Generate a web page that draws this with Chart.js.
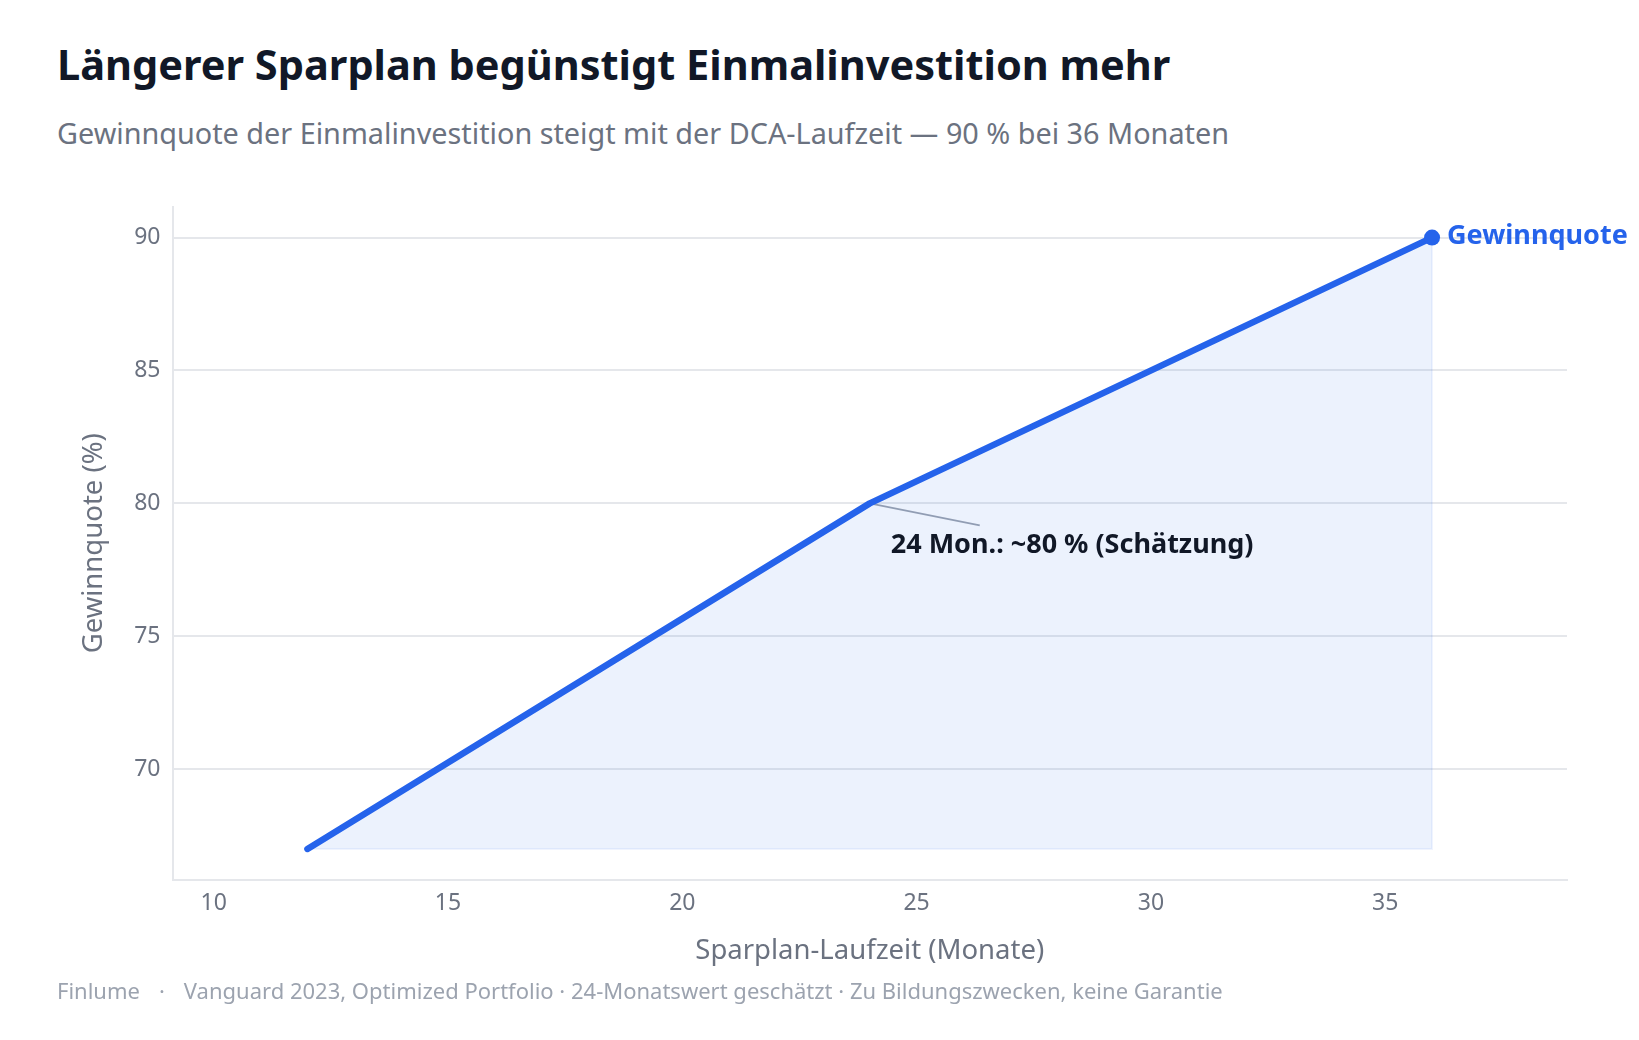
<!DOCTYPE html>
<html lang="de">
<head>
<meta charset="utf-8">
<title>Längerer Sparplan begünstigt Einmalinvestition mehr</title>
<script src="https://cdn.jsdelivr.net/npm/chart.js@4.4.1/dist/chart.umd.min.js"></script>
<style>
  html, body { margin: 0; padding: 0; background: #fff; }
  body { width: 1639px; height: 1040px; position: relative; overflow: hidden; font-family: "Noto Sans", sans-serif; }
  #chart { position: absolute; left: 0; top: 0; }
  .title { position: absolute; left: 57px; top: 40px; font-size: 41.5px; line-height: 48px; font-weight: 700; color: #111827; white-space: nowrap; }
  .subtitle { position: absolute; left: 57px; top: 116px; font-size: 28.8px; line-height: 34px; color: #6b7280; white-space: nowrap; }
  .footer { position: absolute; left: 57px; top: 977px; font-size: 22px; line-height: 26px; color: #9ca3af; white-space: nowrap; }
  .footer .dot { margin: 0 19px; }
</style>
</head>
<body>
<div class="title">Längerer Sparplan begünstigt Einmalinvestition mehr</div>
<div class="subtitle">Gewinnquote der Einmalinvestition steigt mit der DCA-Laufzeit — 90 % bei 36 Monaten</div>
<canvas id="chart" width="1639" height="1040"></canvas>
<div class="footer">Finlume<span class="dot">·</span>Vanguard 2023, Optimized Portfolio · 24-Monatswert geschätzt · Zu Bildungszwecken, keine Garantie</div>

<script>
// data
const months = [12, 24, 36];
const winRate = [67, 80, 90];
const yTicks = [70, 75, 80, 85, 90];
const xTicks = [10, 15, 20, 25, 30, 35];
const seriesLabel = 'Gewinnquote';
const noteIndex = 1;
const noteText = '24 Mon.: ~80 % (Schätzung)';

const BLUE = '#2563eb';
const FILL = 'rgba(37, 99, 235, 0.085)';
const GRID = '#e5e7eb';
const MUTED = '#6b7280';
const FONT = '"Noto Sans", sans-serif';

// axis ranges with a little room around the data
const yLo = Math.min(...winRate), yHi = Math.max(...winRate);
const yPad = (yHi - yLo) * 0.05;
const xLo = Math.min(...months), xHi = Math.max(...months);
const xPad = (xHi - xLo) * 0.12;

const labelPlugin = {
  id: 'labels',
  beforeDatasetsDraw(chart) {
    const { ctx, scales: { x, y } } = chart;
    // faint outline of the area
    const lx = x.getPixelForValue(months[months.length - 1]);
    const ly = y.getPixelForValue(winRate[winRate.length - 1]);
    const fx = x.getPixelForValue(months[0]);
    const base = y.getPixelForValue(yLo);
    ctx.save();
    ctx.strokeStyle = 'rgba(37, 99, 235, 0.07)';
    ctx.lineWidth = 2;
    ctx.beginPath();
    ctx.moveTo(lx, ly);
    ctx.lineTo(lx, base);
    ctx.lineTo(fx, base);
    ctx.stroke();

    // connector for the note
    const ax = x.getPixelForValue(months[noteIndex]);
    const ay = y.getPixelForValue(winRate[noteIndex]);
    ctx.strokeStyle = '#9ca3af';
    ctx.lineWidth = 2;
    ctx.beginPath();
    ctx.moveTo(ax, ay);
    ctx.lineTo(ax + 110, ay + 22);
    ctx.stroke();
    ctx.restore();
  },
  afterDatasetsDraw(chart) {
    const { ctx, scales: { x, y } } = chart;
    const last = months.length - 1;
    const px = x.getPixelForValue(months[last]);
    const py = y.getPixelForValue(winRate[last]);
    ctx.save();
    ctx.textBaseline = 'middle';
    ctx.font = '700 27px ' + FONT;
    ctx.fillStyle = BLUE;
    ctx.fillText(seriesLabel, px + 15, py - 1);

    const ax = x.getPixelForValue(months[noteIndex]);
    const ay = y.getPixelForValue(winRate[noteIndex]);
    ctx.font = '700 27px ' + FONT;
    ctx.fillStyle = '#111827';
    ctx.fillText(noteText, ax + 21, ay + 42);
    ctx.restore();
  }
};

new Chart(document.getElementById('chart'), {
  type: 'line',
  data: {
    labels: months,
    datasets: [{
      label: seriesLabel,
      data: months.map((m, i) => ({ x: m, y: winRate[i] })),
      borderColor: BLUE,
      backgroundColor: FILL,
      borderWidth: 6.5,
      borderCapStyle: 'round',
      borderJoinStyle: 'round',
      tension: 0,
      fill: { value: yLo },
      pointRadius: months.map((m, i) => i === months.length - 1 ? 8 : 0),
      pointBackgroundColor: BLUE,
      pointBorderWidth: 0,
      pointHoverRadius: 0
    }]
  },
  options: {
    responsive: false,
    animation: false,
    events: [],
    layout: { padding: { left: 78, top: 207, right: 72, bottom: 72 } },
    plugins: {
      legend: { display: false },
      tooltip: { enabled: false },
      title: { display: false }
    },
    scales: {
      x: {
        type: 'linear',
        min: xLo - xPad,
        max: xHi + xPad,
        afterBuildTicks: (scale) => { scale.ticks = xTicks.map(v => ({ value: v })); },
        afterFit: (scale) => { scale.height = 88.5; },
        ticks: {
          color: MUTED,
          padding: 10,
          font: { family: FONT, size: 23 }
        },
        grid: { display: false, drawTicks: false },
        border: { display: true, color: GRID, width: 2 },
        title: {
          display: true,
          text: 'Sparplan-Laufzeit (Monate)',
          color: MUTED,
          padding: 0,
          font: { family: FONT, size: 27.5 }
        }
      },
      y: {
        type: 'linear',
        min: yLo - yPad,
        max: yHi + yPad,
        afterBuildTicks: (scale) => { scale.ticks = yTicks.map(v => ({ value: v })); },
        afterFit: (scale) => { scale.width = 94.5; },
        ticks: {
          color: MUTED,
          padding: 12,
          font: { family: FONT, size: 23 }
        },
        grid: { color: GRID, lineWidth: 2, drawTicks: false },
        border: { display: true, color: GRID, width: 2 },
        title: {
          display: true,
          text: 'Gewinnquote (%)',
          color: MUTED,
          padding: 0,
          font: { family: FONT, size: 27.5 }
        }
      }
    }
  },
  plugins: [labelPlugin]
});
</script>
</body>
</html>
